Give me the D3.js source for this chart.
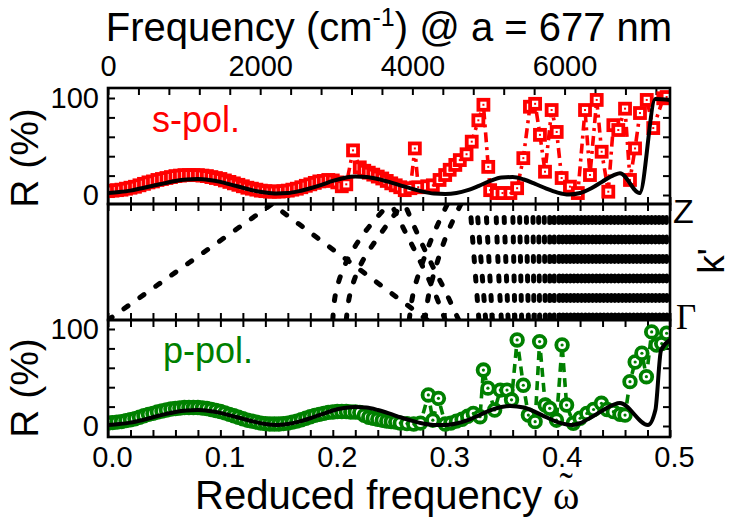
<!DOCTYPE html>
<html><head><meta charset="utf-8">
<script src="https://cdn.jsdelivr.net/npm/d3@7"></script>
<style>
body{margin:0;background:#fff}
svg{display:block}
text{font-family:"Liberation Sans",Arial,Helvetica,sans-serif;fill:#000}
</style></head>
<body><svg id="chart" width="733" height="522"></svg>
<script>
// ---- data ----
const latticeNm = 677;
const freqTicks = [0, 400, 800, 1200, 1600, 2000, 2400, 2800, 3200, 3600, 4000, 4400, 4800, 5200, 5600, 6000, 6400, 6800, 7200];
const freqLabels = [0, 2000, 4000, 6000];
const omegaTicks = [0, 0.02, 0.04, 0.06, 0.08, 0.1, 0.12, 0.14, 0.16, 0.18, 0.2, 0.22, 0.24, 0.26, 0.28, 0.3, 0.32, 0.34, 0.36, 0.38, 0.4, 0.42, 0.44, 0.46, 0.48, 0.5];
const omegaLabels = [0, 0.1, 0.2, 0.3, 0.4, 0.5];
const rTicks = [0, 20, 40, 60, 80, 100];
const rLabels = [0, 100];

// s-polarised reflectance, measured
const sOmega = [0,0.004,0.008,0.012,0.016,0.02,0.024,0.028,0.032,0.036,0.04,0.044,0.048,0.052,0.056,0.06,0.064,0.068,0.072,0.076,0.08,0.084,0.088,0.092,0.096,0.1,0.104,0.108,0.112,0.116,0.12,0.124,0.128,0.132,0.136,0.14,0.144,0.148,0.152,0.156,0.16,0.164,0.168,0.172,0.176,0.18,0.184,0.188,0.192,0.196,0.2,0.204,0.208,0.212,0.218,0.224,0.228,0.232,0.236,0.24,0.244,0.248,0.252,0.256,0.26,0.264,0.269,0.273,0.276,0.284,0.289,0.295,0.3,0.304,0.309,0.313,0.319,0.3236,0.3295,0.334,0.3383,0.34,0.346,0.351,0.358,0.364,0.3695,0.3754,0.38,0.3843,0.3888,0.3947,0.3992,0.4036,0.411,0.418,0.4244,0.4288,0.4348,0.4392,0.4451,0.4496,0.454,0.46,0.4644,0.4689,0.4733,0.4793,0.4851,0.494,0.497];
const sR = [4,4.5,5,5.5,6.5,7.5,8.5,10,11.5,13,14,15.5,16.5,17.5,18.5,19.5,20,20.5,20.5,20.5,20.5,20,19.5,18.5,17.5,16.5,15,13.5,12,10.5,9,7.5,6.5,5.5,4.5,4,3.5,3.5,3.5,4,4.5,5.5,6.5,8,9.5,11,12.5,14,14.5,15.5,15,13,9,11,46,28.5,25,23,21,19,17,14.5,12,10,8,5,7,48,8,9,10,15.5,20.6,26,31,36,42,55,77,93,29,5,2,2,2,7,38,91,94,62,24,87.6,65,17.5,8.6,2,87.6,20.6,98,44.6,3.4,72,67,89,15.5,48,84.5,98,69,99.7,101];
// s-polarised reflectance, model
const sModelOmega = [0,0.01,0.02,0.03,0.04,0.05,0.06,0.07,0.08,0.09,0.1,0.11,0.12,0.13,0.14,0.15,0.16,0.17,0.18,0.19,0.2,0.21,0.22,0.23,0.24,0.25,0.26,0.27,0.28,0.29,0.3,0.31,0.32,0.33,0.34,0.35,0.36,0.37,0.38,0.39,0.4,0.41,0.42,0.43,0.44,0.45,0.4555,0.473,0.487,0.5];
const sModelR = [2,3,4.5,7,9.5,12,14.5,16,16.5,15.5,13.5,10.5,7.5,4.5,2.5,1.5,2,4,7,10.5,14.5,17.5,19,18.5,16.5,13.5,10,6.5,3.5,1.5,1,2,5,9.5,14.5,18,18.5,16,11.5,6.5,2.5,0.5,2,7,14,20.5,22.5,2,99,98];

// p-polarised reflectance, measured
const pOmega = [0,0.004,0.008,0.012,0.016,0.02,0.024,0.028,0.032,0.036,0.04,0.044,0.048,0.052,0.056,0.06,0.064,0.068,0.072,0.076,0.08,0.084,0.088,0.092,0.096,0.1,0.104,0.108,0.112,0.116,0.12,0.124,0.128,0.132,0.136,0.14,0.144,0.148,0.152,0.156,0.16,0.164,0.168,0.172,0.176,0.18,0.184,0.188,0.192,0.196,0.2,0.204,0.208,0.212,0.216,0.22,0.224,0.228,0.232,0.236,0.24,0.244,0.248,0.252,0.256,0.26,0.266,0.272,0.278,0.285,0.289,0.294,0.3,0.305,0.31,0.315,0.32,0.325,0.331,0.334,0.338,0.344,0.349,0.355,0.359,0.364,0.3695,0.374,0.38,0.384,0.389,0.393,0.399,0.404,0.408,0.414,0.42,0.426,0.432,0.439,0.444,0.4496,0.4555,0.46,0.4644,0.469,0.475,0.479,0.4837,0.488,0.4926,0.497];
const pR = [3,3.5,4,4.5,5.5,6.5,7.5,9,10.5,12,13,14.5,15.5,16.5,17.5,18,18.5,19,19,19,19,18.5,18,17,16,15,13.5,12,10.5,9,7.5,6,5,4,3,2.5,2,2,2,2.5,3,4,5,6.5,8,9.5,11,12,13,14,14.5,15,15,15,14.5,14.5,14,11,9,8,7,6,5,4.5,4,3,2.5,2,3,32,6,28.5,2,3,5,7,10,13,9.6,57.7,39,16.5,37,37,27,88.7,42,11.3,4.5,87,21.6,18.2,6,83.5,21.6,2.8,8,13,17,23.4,17,14.8,12,11.3,45.7,66,75,50.8,97,83.5,85,95.6];
// p-polarised reflectance, model
const pModelOmega = [0,0.01,0.02,0.03,0.04,0.05,0.06,0.07,0.08,0.09,0.1,0.11,0.12,0.13,0.14,0.15,0.16,0.17,0.18,0.19,0.2,0.21,0.22,0.23,0.24,0.25,0.26,0.27,0.28,0.29,0.3,0.31,0.32,0.33,0.34,0.35,0.358,0.37,0.38,0.39,0.4,0.413,0.42,0.43,0.44,0.4555,0.4804,0.487,0.492,0.5];
const pModelR = [1,2,3.5,6,9,12,14.5,16,16.5,15.5,13.5,10.5,7.5,4.5,2,1,2,4.5,8,12,16,18.5,19.6,19,16.5,13,9,5.5,2.5,1,1,2.5,6,11,16,19.5,20.6,19,14.5,9,4,1,3,9,16,23.7,1,16.5,78,88.6];

// photonic bands along Gamma-Z: frequencies sampled at evenly spaced k' from Gamma (0) to Z (1)
const bands = [
  [0, 0.0365, 0.073, 0.1095, 0.146],
  [0.284, 0.2495, 0.215, 0.1805, 0.146],
  [0.200, 0.203, 0.212, 0.228, 0.250],
  [0.212, 0.216, 0.226, 0.243, 0.262],
  [0.300, 0.290, 0.278, 0.265, 0.252],
  [0.312, 0.300, 0.287, 0.275, 0.264],
  [0.268, 0.272, 0.280, 0.290, 0.302],
  [0.282, 0.286, 0.293, 0.302, 0.314],
  [0.330, 0.326, 0.322], [0.336, 0.332, 0.328], [0.342, 0.339, 0.336], [0.350, 0.347, 0.345],
  [0.356, 0.354, 0.352], [0.362, 0.361, 0.360], [0.368, 0.367, 0.366], [0.374, 0.373, 0.372],
  [0.379, 0.378], [0.384, 0.383], [0.389, 0.388], [0.393, 0.393], [0.397, 0.397],
  [0.4015, 0.401], [0.4048, 0.4043], [0.4081, 0.4076], [0.4114, 0.4109], [0.4147, 0.4142], [0.418, 0.4175],
  [0.4213, 0.4208], [0.4246, 0.4241], [0.4279, 0.4274], [0.4312, 0.4307], [0.4345, 0.434], [0.4378, 0.4373],
  [0.4411, 0.4406], [0.4444, 0.4439], [0.4477, 0.4472], [0.451, 0.4505], [0.4543, 0.4538], [0.4576, 0.4571],
  [0.4609, 0.4604], [0.4642, 0.4637], [0.4675, 0.467], [0.4708, 0.4703], [0.4741, 0.4736], [0.4774, 0.4769],
  [0.4807, 0.4802], [0.484, 0.4835], [0.4873, 0.4868], [0.4906, 0.4901], [0.4939, 0.4934], [0.4972, 0.4967]
];

// ---- layout ----
const svg = d3.select("#chart");
const left = 108, right = 670;
const panels = {top: [88, 204], mid: [204, 320], bot: [320, 437]};
const red = "#ff0000", green = "#008000";
const serif = "Liberation Serif, Times New Roman, serif";

const x = d3.scaleLinear().domain([0, 0.5]).range([left, right]);
const xFreq = d3.scaleLinear().domain([0, 0.5 * 1e7 / latticeNm]).range([left, right]);
const yS = d3.scaleLinear().domain([0, 100]).range([195, 98]);
const yK = d3.scaleLinear().domain([0, 1]).range([panels.mid[1], panels.mid[0]]);
const yP = d3.scaleLinear().domain([0, 100]).range([426, 329]);

const defs = svg.append("defs");
Object.entries(panels).forEach(([name, [y0, y1]]) => {
  defs.append("clipPath").attr("id", "clip-" + name)
    .append("rect").attr("x", left).attr("y", y0).attr("width", right - left).attr("height", y1 - y0);
});

function styleAxis(g) {
  g.select(".domain").remove();
  g.selectAll(".tick line").attr("stroke", "#000").attr("stroke-width", 2);
  g.selectAll(".tick text").attr("font-size", 29).attr("font-family", "Liberation Sans, Arial, sans-serif").attr("fill", "#000");
}
const fmtOmega = d => omegaLabels.some(v => Math.abs(v - d) < 1e-9) ? d3.format(".1f")(d) : "";
const fmtR = d => rLabels.includes(d) ? d : "";
const fmtFreq = d => freqLabels.includes(d) ? d : "";

// top axis (frequency)
svg.append("g").attr("transform", `translate(0,${panels.top[0]})`)
  .call(d3.axisTop(xFreq).tickValues(freqTicks).tickSizeInner(-7).tickSizeOuter(0).tickPadding(12).tickFormat(fmtFreq))
  .call(styleAxis);
// omega ticks on the panel boundaries
[[panels.top[1], d3.axisBottom], [panels.mid[0], d3.axisTop], [panels.mid[1], d3.axisBottom], [panels.bot[0], d3.axisTop]]
  .forEach(([y, ax]) => {
    svg.append("g").attr("transform", `translate(0,${y})`)
      .call(ax(x).tickValues(omegaTicks).tickSizeInner(-7).tickSizeOuter(0).tickFormat(""))
      .call(styleAxis);
  });
// bottom axis (reduced frequency)
svg.append("g").attr("transform", `translate(0,${panels.bot[1]})`)
  .call(d3.axisBottom(x).tickValues(omegaTicks).tickSizeInner(-7).tickSizeOuter(0).tickPadding(9).tickFormat(fmtOmega))
  .call(styleAxis)
  .selectAll(".tick text").attr("dx", 4);
// reflectance axes
[yS, yP].forEach(ys => {
  svg.append("g").attr("transform", `translate(${left},0)`)
    .call(d3.axisLeft(ys).tickValues(rTicks).tickSizeInner(-7).tickSizeOuter(0).tickPadding(9).tickFormat(fmtR))
    .call(styleAxis);
  svg.append("g").attr("transform", `translate(${right},0)`)
    .call(d3.axisRight(ys).tickValues(rTicks).tickSizeInner(-7).tickSizeOuter(0).tickFormat(""))
    .call(styleAxis);
});

// ---- band structure ----
const gMid = svg.append("g").attr("clip-path", "url(#clip-mid)");
const bandLine = d3.line().x(d => x(d[0])).y(d => yK(d[1])).curve(d3.curveMonotoneY);
bands.forEach(b => {
  const pts = b.map((w, i) => [w, i / (b.length - 1)]);
  gMid.append("path").attr("d", bandLine(pts))
    .attr("fill", "none").attr("stroke", "#000").attr("stroke-width", 5)
    .attr("stroke-linecap", "round").attr("stroke-dasharray", "5,14.5");
});

// ---- reflectance panels ----
function drawPanel(clip, ys, omegas, vals, mOmegas, mVals, color, dash, marker) {
  const g = svg.append("g").attr("clip-path", `url(#clip-${clip})`);
  const pts = omegas.map((w, i) => [w, vals[i]]);
  const line = d3.line().x(d => x(d[0])).y(d => ys(d[1]));
  g.append("path").attr("d", line(pts)).attr("fill", "none").attr("stroke", color)
    .attr("stroke-width", 3.6).attr("stroke-dasharray", dash);
  const m = g.selectAll(".pt").data(pts).join("g").attr("transform", d => `translate(${x(d[0])},${ys(d[1])})`);
  if (marker === "square") {
    m.append("rect").attr("x", -5).attr("y", -5).attr("width", 10).attr("height", 10)
      .attr("fill", "#fff").attr("stroke", color).attr("stroke-width", 3.8);
    m.append("rect").attr("x", -1).attr("y", -1).attr("width", 2).attr("height", 2).attr("fill", color);
  } else {
    m.append("circle").attr("r", 5.8).attr("fill", "#fff").attr("stroke", color).attr("stroke-width", 3.8);
    m.append("circle").attr("r", 1.6).attr("fill", color);
  }
  const mPts = mOmegas.map((w, i) => [w, mVals[i]]);
  g.append("path").attr("d", d3.line().x(d => x(d[0])).y(d => ys(d[1])).curve(d3.curveMonotoneX)(mPts))
    .attr("fill", "none").attr("stroke", "#000").attr("stroke-width", 4).attr("stroke-linejoin", "round");
}
drawPanel("top", yS, sOmega, sR, sModelOmega, sModelR, red, "10,5,3,5", "square");
drawPanel("bot", yP, pOmega, pR, pModelOmega, pModelR, green, "9,6", "circle");

// ---- frames ----
Object.values(panels).forEach(([y0, y1]) => {
  svg.append("rect").attr("x", left).attr("y", y0).attr("width", right - left).attr("height", y1 - y0)
    .attr("fill", "none").attr("stroke", "#000").attr("stroke-width", 2.6);
});

// ---- labels ----
const title = svg.append("text").attr("x", 389).attr("y", 41).attr("text-anchor", "middle").attr("font-size", 40);
title.append("tspan").text("Frequency (cm");
title.append("tspan").text("-1").attr("font-size", 25).attr("dy", -15);
title.append("tspan").text(") @ a = 677 nm").attr("dy", 15);

[158, 388].forEach(cy => {
  svg.append("text").attr("transform", `translate(38,${cy}) rotate(-90)`).attr("text-anchor", "middle")
    .attr("font-size", 39).text("R (%)");
});
svg.append("text").attr("x", 152).attr("y", 132).attr("font-size", 36).style("fill", red).text("s-pol.");
svg.append("text").attr("x", 163).attr("y", 363).attr("font-size", 36).style("fill", green).text("p-pol.");

svg.append("text").attr("x", 673).attr("y", 223).attr("font-size", 34).text("Z");
svg.append("text").attr("x", 676).attr("y", 329).attr("font-size", 35).style("font-family", serif).text("Γ");
svg.append("text").attr("transform", "translate(724,261) rotate(-90)").attr("text-anchor", "middle").attr("font-size", 37).text("k'");

// x-axis title with a tilde over omega
const xtX = 195, xtY = 509;
const xt = svg.append("text").attr("x", xtX).attr("y", xtY).attr("font-size", 40).text("Reduced frequency");
const xtLen = xt.node().getComputedTextLength();
const om = svg.append("text").attr("x", xtX + xtLen + 11).attr("y", xtY).attr("font-size", 40)
  .style("font-family", serif).text("ω");
const omLen = om.node().getComputedTextLength();
svg.append("text").attr("x", xtX + xtLen + 11 + omLen / 2).attr("y", xtY - 9).attr("text-anchor", "middle")
  .attr("font-size", 40).style("font-family", serif).text("˜");
</script></body></html>
